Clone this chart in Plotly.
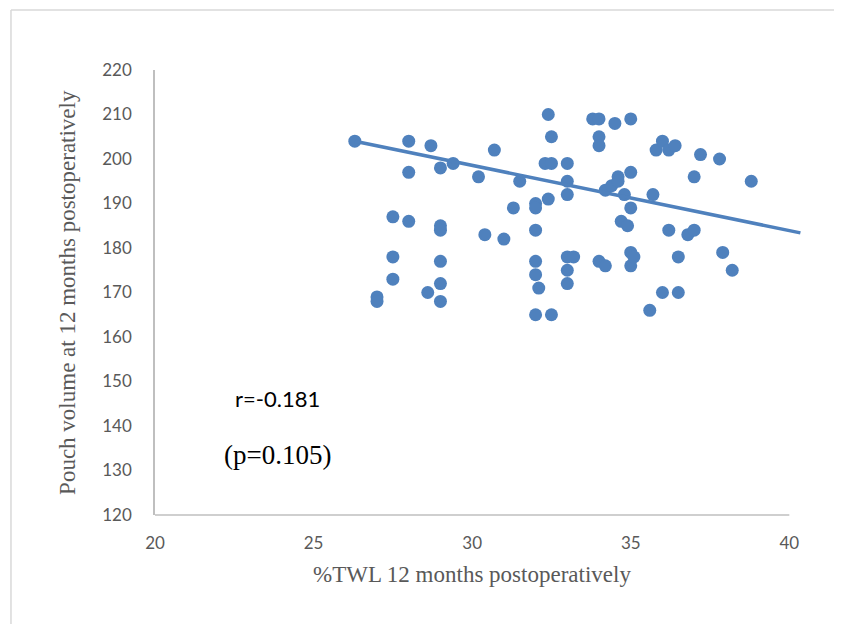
import plotly.graph_objects as go

# %TWL 12 months postoperatively
twl = [26.3, 27.0, 27.0, 27.5, 27.5, 27.5, 28.0, 28.0, 28.0, 28.7, 28.6,
       29.0, 29.0, 29.0, 29.0, 29.0, 29.0, 29.4, 30.2, 30.4, 30.7, 31.0,
       31.3, 31.5, 32.0, 32.0, 32.0, 32.0, 32.0, 32.0, 32.1, 32.3, 32.4,
       32.4, 32.5, 32.5, 32.5, 33.0, 33.0, 33.0, 33.0, 33.0, 33.0, 33.2,
       33.8, 34.0, 34.0, 34.0, 34.0, 34.2, 34.2, 34.5, 34.4, 34.6, 34.6,
       34.7, 34.8, 34.9, 35.0, 35.0, 35.0, 35.0, 35.0, 35.1, 35.6, 35.7,
       35.8, 36.0, 36.0, 36.2, 36.2, 36.4, 36.5, 36.5, 36.8, 37.0, 37.0,
       37.2, 37.8, 37.9, 38.2, 38.8]
# Pouch volume at 12 months postoperatively
pouch = [204, 169, 168, 187, 178, 173, 204, 197, 186, 203, 170,
         198, 185, 184, 177, 172, 168, 199, 196, 183, 202, 182,
         189, 195, 190, 189, 184, 177, 174, 165, 171, 199, 210,
         191, 205, 199, 165, 199, 195, 192, 178, 175, 172, 178,
         209, 209, 205, 203, 177, 193, 176, 208, 194, 196, 195,
         186, 192, 185, 209, 197, 189, 179, 176, 178, 166, 192,
         202, 204, 170, 202, 184, 203, 178, 170, 183, 184, 196,
         201, 200, 179, 175, 195]

trend_x = [26.3, 40.35]
trend_y = [204.0, 183.4]

x_ticks = [20, 25, 30, 35, 40]
y_ticks = [120, 130, 140, 150, 160, 170, 180, 190, 200, 210, 220]

blue = "#4f81bd"
grey_txt = "#595959"

fig = go.Figure()
fig.add_trace(go.Scatter(x=twl, y=pouch, mode="markers",
                         marker=dict(size=13, color=blue), showlegend=False,
                         cliponaxis=False))
fig.add_trace(go.Scatter(x=trend_x, y=trend_y, mode="lines",
                         line=dict(color=blue, width=3.5), showlegend=False))

XMAX = 40.4
fig.update_layout(
    width=826, height=616,
    margin=dict(l=147, r=32, t=62, b=109),
    paper_bgcolor="white", plot_bgcolor="white",
    xaxis=dict(range=[20, XMAX], tickvals=x_ticks, showgrid=False, zeroline=False,
               showline=False, ticks="", ticklabelstandoff=16,
               tickfont=dict(family="Lato", size=17, color=grey_txt)),
    yaxis=dict(range=[120, 220], tickvals=y_ticks, showgrid=False, zeroline=False,
               showline=True, linecolor="#bfbfbf", linewidth=1.5, ticks="",
               ticklabelstandoff=18,
               tickfont=dict(family="Lato", size=17, color=grey_txt)),
    shapes=[
        dict(type="line", xref="paper", yref="paper", x0=0, x1=(40 - 20) / (XMAX - 20),
             y0=0, y1=0, line=dict(color="#bfbfbf", width=1.5)),
        # outer chart frame: top and left edges (right/bottom fall outside the picture)
        dict(type="line", xref="paper", yref="paper", x0=-0.2226, x1=1.2,
             y0=1.1348, y1=1.1348, line=dict(color="#d9d9d9", width=1.5)),
        dict(type="line", xref="paper", yref="paper", x0=-0.2226, x1=-0.2226,
             y0=-0.4, y1=1.1348, line=dict(color="#d9d9d9", width=1.5)),
    ],
    annotations=[
        dict(text="%TWL 12 months postoperatively", xref="paper", yref="paper",
             x=0.4907, y=-0.1348, xanchor="center", yanchor="middle", showarrow=False,
             font=dict(family="Liberation Serif", size=23, color=grey_txt)),
        dict(text="Pouch volume at 12 months postoperatively", xref="paper", yref="paper",
             x=-0.1354, y=0.5, xanchor="center", yanchor="middle", textangle=-90,
             showarrow=False,
             font=dict(family="Liberation Serif", size=23, color=grey_txt)),
        dict(text="r=-0.181", xref="paper", yref="paper", x=0.1886, y=0.2629,
             xanchor="center", yanchor="middle", showarrow=False,
             font=dict(family="Lato", size=22, color="black")),
        dict(text="(p=0.105)", xref="paper", yref="paper", x=0.1886, y=0.1348,
             xanchor="center", yanchor="middle", showarrow=False,
             font=dict(family="Liberation Serif", size=27, color="black")),
    ],
)

fig.write_html("out.html")
